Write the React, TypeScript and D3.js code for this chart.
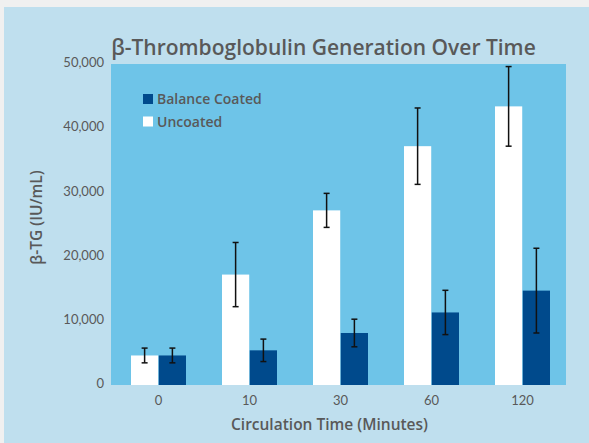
import * as d3 from 'd3';
import * as React from 'react';

// circulation time categories (minutes)
const categories = ['0', '10', '30', '60', '120'];

// mean beta-TG values and error bar half-widths
const uncoated = [4600, 17200, 27200, 37200, 43400];
const uncoatedErr = [1150, 5000, 2650, 5950, 6200];
const balanceCoated = [4600, 5400, 8100, 11300, 14700];
const balanceCoatedErr = [1150, 1750, 2150, 3450, 6600];

const yTicks = [0, 10000, 20000, 30000, 40000, 50000];

const seriesNames = ['Uncoated', 'Balance Coated'];
const legendNames = ['Balance Coated', 'Uncoated'];

const W = 589;
const H = 443;
const plot = { left: 111, right: 566, top: 64, bottom: 385 };

const colors: Record<string, string> = {
    'Uncoated': '#ffffff',
    'Balance Coated': '#004a8c',
};

const font = 'Lato, "Open Sans", sans-serif';
const boldFont = '"Open Sans", Lato, sans-serif';
const textColor = '#595959';

export default function App() {
    const y = d3.scaleLinear().domain([0, 50000]).range([plot.bottom, plot.top]);
    const x0 = d3.scaleBand<string>()
        .domain(categories)
        .range([plot.left + 2, plot.right + 2]);
    const x1 = d3.scaleBand<string>()
        .domain(seriesNames)
        .range([0, 55])
        .paddingInner(0.02);
    const fmt = d3.format(',');

    const rows = seriesNames.map(name => ({
        name,
        values: name === 'Uncoated' ? uncoated : balanceCoated,
        errs: name === 'Uncoated' ? uncoatedErr : balanceCoatedErr,
    }));

    return (
        <div style={{ position: 'absolute', left: 0, top: 0, width: W, height: H, background: '#f0f0f0' }}>
            <svg width={W} height={H} style={{ display: 'block' }}>
                <rect x={4} y={7} width={W - 4} height={H - 7} fill="#bfdfee" />
                <rect
                    x={plot.left}
                    y={plot.top}
                    width={plot.right - plot.left}
                    height={plot.bottom - plot.top}
                    fill="#6ec4e8"
                />

                <text
                    x={323.5}
                    y={54.5}
                    textAnchor="middle"
                    fontFamily={boldFont}
                    fontWeight={600}
                    fontSize={21}
                    fill={textColor}
                >
                    β-Thromboglobulin Generation Over Time
                </text>

                {yTicks.map(t => (
                    <text
                        key={t}
                        x={104}
                        y={y(t)}
                        textAnchor="end"
                        dominantBaseline="middle"
                        fontFamily={font}
                        fontSize={13}
                        fill={textColor}
                    >
                        {fmt(t)}
                    </text>
                ))}

                <text
                    transform={`translate(42, ${(plot.top + plot.bottom) / 2 - 7}) rotate(-90)`}
                    textAnchor="middle"
                    fontFamily={boldFont}
                    fontWeight={600}
                    fontSize={15.5}
                    fill={textColor}
                >
                    β-TG (IU/mL)
                </text>

                {rows.map(s => (
                    <g key={s.name}>
                        {categories.map((c, i) => {
                            const bx = (x0(c) as number) + (x0.bandwidth() - 55) / 2 + (x1(s.name) as number);
                            const bw = x1.bandwidth();
                            const cx = bx + bw / 2;
                            const hi = y(s.values[i] + s.errs[i]);
                            const lo = y(s.values[i] - s.errs[i]);
                            return (
                                <g key={c}>
                                    <rect
                                        x={bx}
                                        y={y(s.values[i])}
                                        width={bw}
                                        height={y(0) - y(s.values[i])}
                                        fill={colors[s.name]}
                                    />
                                    <line x1={cx} x2={cx} y1={hi} y2={lo} stroke="#111" strokeWidth={1.5} />
                                    <line x1={cx - 3} x2={cx + 3} y1={hi} y2={hi} stroke="#111" strokeWidth={1.5} />
                                    <line x1={cx - 3} x2={cx + 3} y1={lo} y2={lo} stroke="#111" strokeWidth={1.5} />
                                </g>
                            );
                        })}
                    </g>
                ))}

                {categories.map(c => (
                    <text
                        key={c}
                        x={(x0(c) as number) + x0.bandwidth() / 2}
                        y={405}
                        textAnchor="middle"
                        fontFamily={font}
                        fontSize={13}
                        fill={textColor}
                    >
                        {c}
                    </text>
                ))}

                <text
                    x={329.5}
                    y={430}
                    textAnchor="middle"
                    fontFamily={boldFont}
                    fontWeight={600}
                    fontSize={15.5}
                    fill={textColor}
                >
                    Circulation Time (Minutes)
                </text>

                {legendNames.map((name, i) => (
                    <g key={name} transform={`translate(143, ${94 + i * 22.5})`}>
                        <rect x={0} y={0} width={10} height={10} fill={colors[name]} />
                        <text
                            x={14}
                            y={10}
                            fontFamily={boldFont}
                            fontWeight={600}
                            fontSize={14}
                            fill={textColor}
                        >
                            {name}
                        </text>
                    </g>
                ))}
            </svg>
        </div>
    );
}
